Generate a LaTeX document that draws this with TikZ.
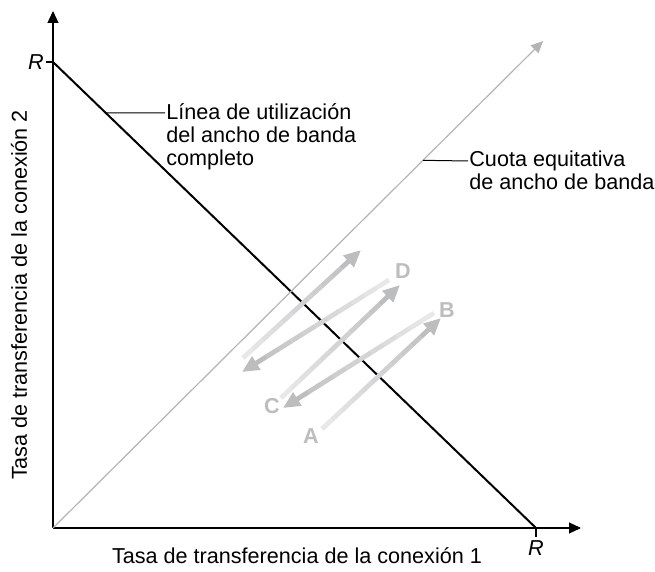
\documentclass[tikz,border=0pt]{standalone}
\usepackage{fontspec}
\setmainfont{Liberation Sans}
\usetikzlibrary{calc,arrows.meta}

\definecolor{fairgray}{HTML}{B3B4B6}
\definecolor{stepdark}{HTML}{BCBDBF}
\definecolor{steplight}{HTML}{E8E8E9}

% one step of the rate trajectory, pale at its start, darker at its tip
\newcommand{\fadestep}[2]{%
  \foreach \i in {0,...,9}{%
    \pgfmathsetmacro{\mixpct}{100-100*\i/11}%
    \draw[fade, draw=steplight!\mixpct!stepdark]
      ($(#1)!{\i/12}!(#2)$) -- ($(#1)!{(\i+1)/12}!(#2)$);
  }
  \draw[fade, draw=stepdark, -{Triangle[length=8.5pt,width=7.5pt]}]
    ($(#1)!{10/12}!(#2)$) -- (#2);
}

\begin{document}
\begin{tikzpicture}[x=0.5pt,y=-0.5pt, font=\fontsize{10.8}{11.5}\selectfont]
    \tikzset{axis/.style={line width=0.6pt, -{Triangle[length=6pt,width=5.5pt]}},
             fade/.style={line width=2.4pt},
             tag/.style={font=\fontsize{10.8}{12}\selectfont\bfseries, text=stepdark, inner sep=0pt},
             note/.style={align=left, inner sep=0pt}}
    \useasboundingbox (0,0) rectangle (655,572);

    % ---- axes ----
    \coordinate (O) at (53,528);
    \coordinate (ytop) at (53,11);
    \coordinate (xend) at (581,528);
    \draw[axis] (O) -- (ytop);
    \draw[axis] (O) -- (xend);

    \coordinate (Ry) at (53,62);
    \coordinate (Rx) at (536,528);
    \coordinate (Rytick) at (46,62);
    \coordinate (Rxtick) at (536,537);
    \draw[line width=0.6pt] (Ry) -- (Rytick);
    \draw[line width=0.6pt] (Rx) -- (Rxtick);
    \node[anchor=east, inner sep=1pt] (Rylab) at (Rytick) {\itshape R};
    \node[anchor=north, inner sep=1.5pt] (Rxlab) at (Rxtick) {\itshape R};

    \node (xlab) at (297,556) {Tasa de transferencia de la conexión 1};
    \node[rotate=90] (ylab) at (19,295) {Tasa de transferencia de la conexión 2};

    % ---- full use line and fair share line ----
    \draw[line width=1pt] (Ry) -- (Rx);
    \coordinate (fairtip) at (543,41);
    \draw[fairgray, line width=0.6pt, -{Triangle[length=6pt,width=5.5pt]}] (O) -- (fairtip);

    % ---- leaders ----
    \coordinate (fullpt) at ($(Ry)!0.109!(Rx)$);
    \coordinate (fullend) at (165,113);
    \draw[line width=0.5pt] (fullpt) -- (fullend);
    \node[note, anchor=north west] (fulltxt) at (166,103)
        {Línea de utilización\\del ancho de banda\\completo};

    \coordinate (fairpt) at ($(O)!0.755!(fairtip)$);
    \coordinate (fairend) at (468,161);
    \draw[line width=0.5pt] (fairpt) -- (fairend);
    \node[note, anchor=north west] (fairtxt) at (469,150)
        {Cuota equitativa\\de ancho de banda};

    % ---- trajectory ----
    \coordinate (a0) at (322,429);  \coordinate (a1) at (441,318);
    \coordinate (b0) at (434,313);  \coordinate (b1) at (283,408);
    \coordinate (c0) at (281,398);  \coordinate (c1) at (400,285);
    \coordinate (d0) at (389,280);  \coordinate (d1) at (242,372);
    \coordinate (e0) at (243,358);  \coordinate (e1) at (361,250);
    \fadestep{a0}{a1}
    \fadestep{b0}{b1}
    \fadestep{c0}{c1}
    \fadestep{d0}{d1}
    \fadestep{e0}{e1}

    \node[tag] (A) at (311,436) {A};
    \node[tag] (B) at (447,310) {B};
    \node[tag] (C) at (272,406) {C};
    \node[tag] (D) at (403,271) {D};
\end{tikzpicture}
\end{document}
